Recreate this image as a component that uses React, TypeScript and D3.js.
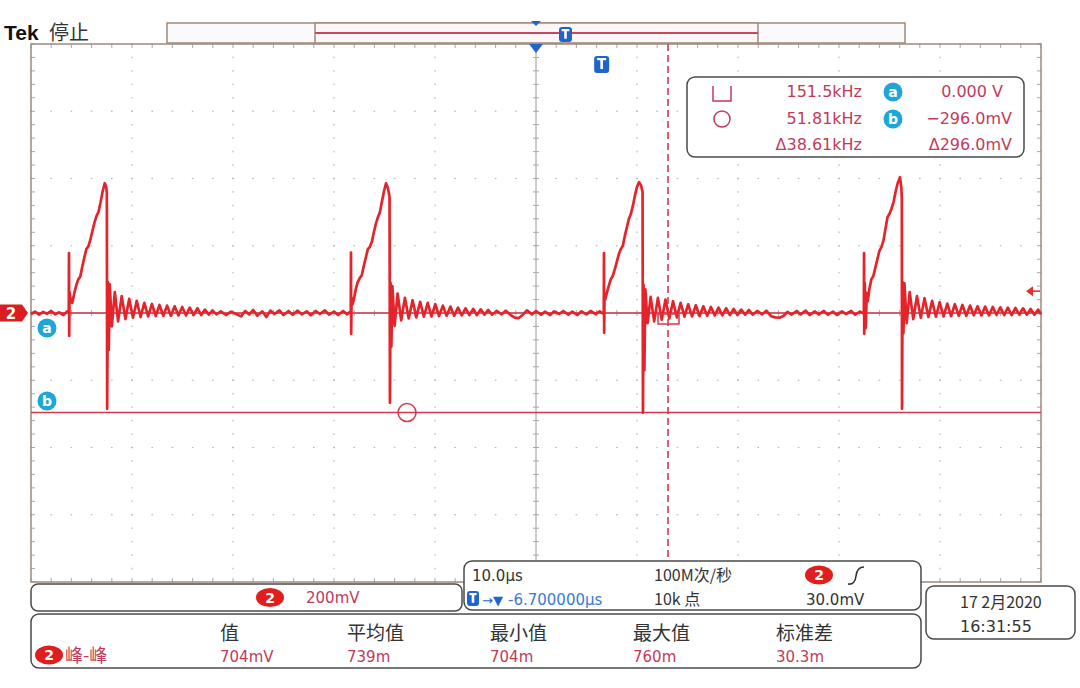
import React from 'react';
import * as d3 from 'd3';

// ---------- DATA ----------
// Channel 2 trace read from the screen: [time in µs from left edge, mV]
const ch2Trace: [number, number][] = [
  [0, -3], [0.4, 4], [0.8, -5], [1.2, 3], [1.6, -2], [2.0, 6], [2.4, -4], [2.8, 2], [3.2, -6], [3.6, 5],
  [3.74, 0], [3.76, 178], [3.78, -68], [3.82, 62], [3.92, 40], [4.08, 30], [4.28, 58], [4.48, 82], [4.68, 100],
  [4.88, 108], [5.08, 138], [5.28, 165], [5.48, 190], [5.68, 198], [5.88, 218], [6.08, 244], [6.28, 268],
  [6.48, 288], [6.68, 300], [6.88, 328], [7.08, 360], [7.30, 386], [7.44, 376], [7.51, 358],
  [7.54, -285], [7.62, 92], [7.70, -110], [7.80, 85], [8.00, -40], [8.30, 62], [8.62, -25], [8.98, 50],
  [9.35, -18], [9.72, 42], [10.10, -14], [10.47, 36], [10.85, -12], [11.22, 30], [11.60, -10], [11.97, 27],
  [12.35, -9], [12.72, 24], [13.10, -8], [13.47, 22], [13.85, -8], [14.22, 20], [14.60, -7], [14.97, 18],
  [15.35, -7], [15.72, 16], [16.10, -6], [16.47, 14], [16.85, -6], [17.22, 10], [17.60, -5], [17.97, 8],
  [18.35, -4], [18.8, 5], [19.3, -6], [19.8, 4], [20.3, -3], [20.8, -10], [21.2, 6], [21.6, -4], [22.0, 9],
  [22.4, -8], [22.9, 5], [23.3, -12], [23.7, 7], [24.1, -3], [24.6, 8], [25.0, -6], [25.5, 6], [25.9, -5],
  [26.4, 7], [26.8, -4], [27.3, 5], [27.7, -7], [28.2, 6], [28.6, -3], [29.1, 8], [29.5, -5], [30.0, 4],
  [30.4, -6], [30.9, 6], [31.3, -4], [31.60, 4],
  [31.66, 0], [31.68, 180], [31.70, -62], [31.74, 45], [31.82, 25], [31.95, 38], [32.15, 70], [32.35, 92],
  [32.55, 104], [32.75, 112], [32.95, 140], [33.15, 165], [33.35, 190], [33.55, 197], [33.75, 212],
  [33.95, 240], [34.15, 266], [34.35, 285], [34.55, 300], [34.75, 332], [34.95, 362], [35.15, 386],
  [35.35, 370], [35.50, 345], [35.54, -267], [35.60, 90], [35.68, -100], [35.78, 80], [36.00, -38],
  [36.30, 58], [36.65, -22], [37.02, 45], [37.40, -16], [37.78, 38], [38.15, -13], [38.53, 33], [38.90, -11],
  [39.28, 30], [39.65, -10], [40.03, 26], [40.40, -9], [40.78, 22], [41.15, -8], [41.53, 19], [41.90, -8],
  [42.28, 16], [42.65, -7], [43.03, 14], [43.40, -6], [43.78, 12], [44.15, -6], [44.53, 11], [44.90, -5],
  [45.28, 9], [45.65, -5], [46.1, 6], [46.6, -4], [47.0, 7], [47.5, -6], [47.9, -14], [48.3, -15],
  [48.7, -5], [49.1, 8], [49.6, -4], [50.0, 6], [50.5, -5], [50.9, 4], [51.4, -6], [51.8, 5], [52.3, -3],
  [52.7, 6], [53.2, -5], [53.6, 4], [54.1, -6], [54.5, 5], [55.0, -4], [55.4, 6], [55.9, -3], [56.3, 5],
  [56.65, -2],
  [56.71, 0], [56.73, 178], [56.75, -59], [56.78, 45], [56.85, 40], [57.0, 58], [57.2, 80], [57.4, 100],
  [57.6, 110], [57.8, 130], [58.0, 152], [58.2, 175], [58.4, 190], [58.6, 200], [58.8, 230], [59.0, 255],
  [59.2, 280], [59.4, 295], [59.6, 320], [59.8, 350], [60.0, 375], [60.2, 389], [60.4, 380], [60.55, 360],
  [60.59, -297], [60.65, 83], [60.73, -170], [60.83, 70], [61.05, -30], [61.35, 48], [61.70, -25],
  [62.07, 45], [62.45, -20], [62.82, 40], [63.20, -16], [63.57, 35], [63.95, -13], [64.32, 30], [64.70, -11],
  [65.07, 26], [65.45, -10], [65.82, 23], [66.20, -9], [66.57, 20], [66.95, -8], [67.32, 18], [67.70, -7],
  [68.07, 16], [68.45, -7], [68.82, 14], [69.20, -6], [69.57, 12], [69.95, -6], [70.32, 10], [70.70, -5],
  [71.07, 9], [71.45, -5], [71.9, 6], [72.4, -4], [72.8, 7], [73.3, -10], [73.7, -13], [74.1, -14],
  [74.5, -9], [74.9, 3], [75.3, -5], [75.8, 6], [76.2, -4], [76.7, 7], [77.1, -6], [77.6, 5], [78.0, -4],
  [78.5, 6], [78.9, -5], [79.4, 4], [79.8, -6], [80.3, 5], [80.7, -3], [81.2, 6], [81.6, -5], [82.1, 4],
  [82.44, -2],
  [82.46, 0], [82.48, 178], [82.50, -62], [82.55, 90], [82.65, -45], [82.75, 60], [82.85, 35], [83.0, 70],
  [83.2, 100], [83.4, 110], [83.6, 135], [83.8, 160], [84.0, 185], [84.2, 196], [84.4, 215], [84.6, 250],
  [84.8, 285], [85.0, 295], [85.2, 310], [85.4, 330], [85.6, 360], [85.8, 385], [86.04, 404], [86.18, 370],
  [86.22, 340], [86.24, -285], [86.30, 92], [86.38, -60], [86.48, 88], [86.70, -30], [87.00, 62],
  [87.35, -18], [87.72, 50], [88.10, -14], [88.47, 44], [88.85, -12], [89.22, 36], [89.60, -11], [89.97, 32],
  [90.35, -10], [90.72, 28], [91.10, -9], [91.47, 26], [91.85, -8], [92.22, 24], [92.60, -8], [92.97, 22],
  [93.35, -7], [93.72, 20], [94.10, -7], [94.47, 19], [94.85, -7], [95.22, 18], [95.60, -6], [95.97, 17],
  [96.35, -6], [96.72, 16], [97.10, -6], [97.47, 15], [97.85, -5], [98.22, 14], [98.60, -5], [98.97, 12],
  [99.35, -5], [99.72, 10], [100, -4],
];

// Cursors: a (square marker) and b (circle marker)
const cursorTimes = [63.07, 37.23]; // µs
const cursorLevels = [0, -296]; // mV
const cursorFreqText = ['151.5kHz', '51.81kHz', 'Δ38.61kHz'];
const cursorVoltText = ['0.000 V', '−296.0mV', 'Δ296.0mV'];
const triggerLevel = 65; // mV (arrow marker at right edge)
const triggerTime = 56.45; // µs, trigger icon position

const measHeaders = ['值', '平均值', '最小值', '最大值', '标准差'];
const measValues = ['704mV', '739m', '704m', '760m', '30.3m'];

const timebaseText = ['10.0µs', '100M次/秒', '30.0mV', '10k 点', '-6.700000µs'];
const dateText = ['17 2月2020', '16:31:55'];

// ---------- COMPONENT ----------
const RED = '#e4242a';
const CUR = '#d43a4c';
const TXT_RED = '#c23a5a';
const BLUE = '#1f64cc';
const CYAN = '#1ea6d8';
const FRAME = '#9d8a7c';
const BOX = '#4a4a4a';
const LATIN = '"DejaVu Sans", sans-serif';
const CJK = '"Noto Sans CJK SC", sans-serif';

function Badge({ cx, cy }: { cx: number; cy: number }) {
  return (
    <g>
      <ellipse cx={cx} cy={cy} rx={14} ry={9.5} fill="#e01e1e" />
      <text x={cx} y={cy + 5} textAnchor="middle" fill="#fff" fontFamily={LATIN} fontWeight="bold" fontSize={14}>2</text>
    </g>
  );
}

function CyanDot({ cx, cy, label }: { cx: number; cy: number; label: string }) {
  return (
    <g>
      <circle cx={cx} cy={cy} r={9.5} fill={CYAN} />
      <text x={cx} y={cy + 4.5} textAnchor="middle" fill="#fff" fontFamily={LATIN} fontWeight="bold" fontSize={14}>{label}</text>
    </g>
  );
}

function TIcon({ x, y, w, h }: { x: number; y: number; w: number; h: number }) {
  return (
    <g>
      <rect x={x} y={y} width={w} height={h} rx={3} fill={BLUE} />
      <rect x={x + w * 0.2} y={y + 2} width={w * 0.6} height={2.2} fill="#fff" />
      <rect x={x + w / 2 - 1.3} y={y + 2} width={2.6} height={h * 0.65} fill="#fff" />
    </g>
  );
}

export default function App() {
  const x = d3.scaleLinear().domain([0, 100]).range([31, 1041]);
  const y = d3.scaleLinear().domain([-800, 800]).range([582, 44]);

  const majorT = d3.range(0, 100.001, 10);
  const minorT = d3.range(0, 100.001, 2);
  const majorV = d3.range(-800, 800.001, 200);
  const minorV = d3.range(-800, 800.001, 40);

  const line = d3.line<[number, number]>().x((d) => x(d[0])).y((d) => y(d[1]));
  const tracePath = line(ch2Trace) || '';

  const dots: JSX.Element[] = [];
  majorT.forEach((t, i) => {
    if (t === 0 || t === 50 || t === 100) return;
    minorV.forEach((v, j) => dots.push(<rect key={`vd${i}-${j}`} x={x(t) - 0.6} y={y(v) - 0.8} width={1.2} height={1.6} fill="#b9b9b9" />));
  });
  majorV.forEach((v, i) => {
    if (v === -800 || v === 0 || v === 800) return;
    minorT.forEach((t, j) => dots.push(<rect key={`hd${i}-${j}`} x={x(t) - 0.8} y={y(v) - 0.6} width={1.6} height={1.2} fill="#b9b9b9" />));
  });

  const ticks: JSX.Element[] = [];
  minorT.forEach((t, j) => {
    ticks.push(<line key={`tt${j}`} x1={x(t)} x2={x(t)} y1={44} y2={48} stroke="#a9a9a9" />);
    ticks.push(<line key={`tb${j}`} x1={x(t)} x2={x(t)} y1={582} y2={578} stroke="#a9a9a9" />);
    ticks.push(<line key={`tc${j}`} x1={x(t)} x2={x(t)} y1={y(0) - 3} y2={y(0) + 3} stroke="#a9a9a9" />);
  });
  minorV.forEach((v, j) => {
    ticks.push(<line key={`tl${j}`} x1={31} x2={35} y1={y(v)} y2={y(v)} stroke="#a9a9a9" />);
    ticks.push(<line key={`tr${j}`} x1={1041} x2={1037} y1={y(v)} y2={y(v)} stroke="#a9a9a9" />);
    ticks.push(<line key={`tm${j}`} x1={x(50) - 3} x2={x(50) + 3} y1={y(v)} y2={y(v)} stroke="#a9a9a9" />);
  });

  const ax = x(cursorTimes[0]);
  const ay = y(cursorLevels[0]);
  const bx = x(cursorTimes[1]);
  const by = y(cursorLevels[1]);
  const trigY = y(triggerLevel);
  const trigX = x(triggerTime);
  const measCols = [220, 347, 490, 633, 776];
  const readRows = [97, 124, 150];

  return (
    <svg width={1080} height={688} style={{ position: 'absolute', left: 0, top: 0, background: '#fff' }}>
      <rect width={1080} height={688} fill="#fff" />

      {/* header */}
      <text x={4} y={40} fontFamily='"Liberation Sans", sans-serif' fontWeight="bold" fontSize={21} fill="#111">Tek</text>
      <text x={49} y={40} fontFamily={CJK} fontSize={20} fill="#333">停止</text>

      {/* record bar */}
      <rect x={167} y={23} width={738} height={20} fill="#fbf9fb" stroke={FRAME} strokeWidth={1.5} />
      <rect x={315} y={23} width={443} height={20} fill="#fdf6f8" stroke={FRAME} strokeWidth={1.5} />
      <line x1={315} x2={758} y1={33} y2={33} stroke="#c8485a" strokeWidth={2} />
      <path d={`M${x(50) - 5},21 L${x(50) + 5},21 L${x(50)},26 Z`} fill={BLUE} />
      <TIcon x={559} y={27} w={13} h={15} />

      {/* graticule */}
      {dots}
      <line x1={x(50)} x2={x(50)} y1={44} y2={582} stroke="#9a9a9a" strokeWidth={1} />
      <line x1={31} x2={1041} y1={y(0)} y2={y(0)} stroke="#9a9a9a" strokeWidth={1} />
      {ticks}
      <rect x={31} y={44} width={1010} height={538} fill="none" stroke={FRAME} strokeWidth={1.5} />
      <path d={`M${x(50) - 7},44 L${x(50) + 7},44 L${x(50)},53 Z`} fill={BLUE} />
      <TIcon x={trigX - 7} y={56} w={15} h={17} />

      {/* cursors */}
      <line x1={31} x2={1041} y1={ay} y2={ay} stroke={CUR} strokeWidth={1.6} />
      <line x1={31} x2={1041} y1={by} y2={by} stroke={CUR} strokeWidth={1.6} />
      <line x1={ax} x2={ax} y1={44} y2={582} stroke={CUR} strokeWidth={1.6} strokeDasharray="7 4" />

      {/* trace */}
      <path d={tracePath} fill="none" stroke={RED} strokeWidth={2.7} strokeLinejoin="round" />

      {/* cursor markers */}
      <rect x={ax - 10} y={ay + 1} width={21} height={10} fill="none" stroke={CUR} strokeWidth={1.5} />
      <circle cx={bx} cy={by} r={9} fill="none" stroke={CUR} strokeWidth={1.5} />

      {/* left markers */}
      <path d={`M0,${y(0) - 8.5} H22 L28,${y(0)} L22,${y(0) + 8.5} H0 Z`} fill="#d81e1e" />
      <text x={11} y={y(0) + 5.5} textAnchor="middle" fill="#fff" fontFamily={LATIN} fontWeight="bold" fontSize={15}>2</text>
      <CyanDot cx={47} cy={328} label="a" />
      <CyanDot cx={47} cy={401} label="b" />

      {/* trigger level arrow */}
      <path d={`M1026,${trigY} L1033,${trigY - 5} L1033,${trigY + 5} Z`} fill="#e03030" />
      <line x1={1031} x2={1040} y1={trigY} y2={trigY} stroke="#e03030" strokeWidth={1.6} />

      {/* cursor readout box */}
      <rect x={687} y={77} width={337} height={80} rx={8} fill="#fff" stroke={BOX} strokeWidth={1.5} />
      <path d="M713,86 V101 H731 V86" fill="none" stroke={TXT_RED} strokeWidth={1.5} />
      <circle cx={722} cy={119} r={8} fill="none" stroke={TXT_RED} strokeWidth={1.5} />
      {cursorFreqText.map((s, i) => (
        <text key={`cf${i}`} x={862} y={readRows[i]} textAnchor="end" fontFamily={LATIN} fontSize={16} fill={TXT_RED}>{s}</text>
      ))}
      {cursorVoltText.map((s, i) => (
        <text key={`cv${i}`} x={i === 0 ? 1003 : 1012} y={readRows[i]} textAnchor="end" fontFamily={LATIN} fontSize={16} fill={TXT_RED}>{s}</text>
      ))}
      <CyanDot cx={893} cy={92} label="a" />
      <CyanDot cx={893} cy={119} label="b" />

      {/* channel box */}
      <rect x={31} y={584} width={431} height={27} rx={7} fill="#fff" stroke={BOX} strokeWidth={1.5} />
      <Badge cx={270} cy={597.5} />
      <text x={306} y={603} fontFamily={LATIN} fontSize={15} fill={TXT_RED}>200mV</text>

      {/* timebase box */}
      <rect x={464} y={561} width={457} height={49} rx={8} fill="#fff" stroke={BOX} strokeWidth={1.5} />
      <text x={472} y={581} fontFamily={LATIN} fontSize={15} fill="#333">{timebaseText[0]}</text>
      <text x={654} y={581} fontFamily={CJK} fontSize={16} fill="#333">{timebaseText[1]}</text>
      <Badge cx={819} cy={575} />
      <path d="M848,584 Q855,585 856,576 Q857,567 864,567" fill="none" stroke="#333" strokeWidth={1.6} />
      <TIcon x={467} y={591} w={12} h={15} />
      <text x={482} y={605} fontFamily={LATIN} fontSize={13} fill={BLUE}>→▼</text>
      <text x={508} y={605} fontFamily={LATIN} fontSize={15} fill="#3a7ad6">{timebaseText[4]}</text>
      <text x={654} y={605} fontFamily={CJK} fontSize={16} fill="#333">{timebaseText[3]}</text>
      <text x={806} y={605} fontFamily={LATIN} fontSize={15} fill="#333">{timebaseText[2]}</text>

      {/* measurement box */}
      <rect x={31} y={614} width={890} height={54} rx={8} fill="#fff" stroke={BOX} strokeWidth={1.5} />
      <Badge cx={49} cy={655} />
      <text x={65} y={662} fontFamily={CJK} fontSize={18} fill={TXT_RED}>峰-峰</text>
      {measHeaders.map((s, i) => (
        <text key={`mh${i}`} x={measCols[i]} y={640} fontFamily={CJK} fontSize={19} fill="#333">{s}</text>
      ))}
      {measValues.map((s, i) => (
        <text key={`mv${i}`} x={measCols[i]} y={662} fontFamily={LATIN} fontSize={15} fill={TXT_RED}>{s}</text>
      ))}

      {/* date box */}
      <rect x={926} y={586} width={149} height={53} rx={8} fill="#fff" stroke={BOX} strokeWidth={1.5} />
      <text x={960} y={608} fontFamily={CJK} fontSize={16} fill="#333">{dateText[0]}</text>
      <text x={960} y={632} fontFamily={LATIN} fontSize={16} fill="#333">{dateText[1]}</text>
    </svg>
  );
}
